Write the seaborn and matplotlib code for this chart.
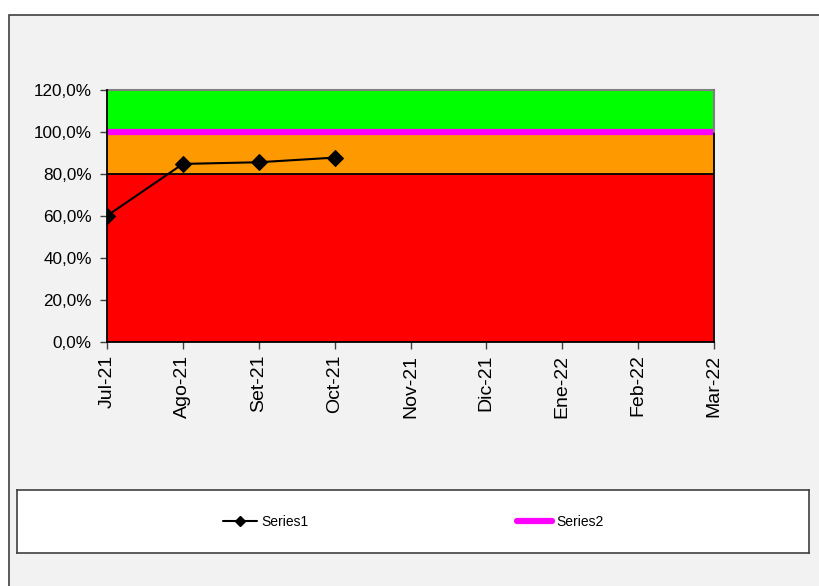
import matplotlib
matplotlib.use("Agg")
import matplotlib.pyplot as plt
from matplotlib.patches import Rectangle
from matplotlib.lines import Line2D
from matplotlib.ticker import FuncFormatter
import seaborn as sns
import pandas as pd

months = ["Jul-21", "Ago-21", "Set-21", "Oct-21", "Nov-21", "Dic-21", "Ene-22", "Feb-22", "Mar-22"]
series1 = [0.601, 0.848, 0.856, 0.878]
series2 = [1.0] * len(months)
band_edges = [0.0, 0.8, 1.0, 1.2]
band_colors = ["#ff0000", "#ff9900", "#00ff00"]
y_ticks = [0.0, 0.2, 0.4, 0.6, 0.8, 1.0, 1.2]

sns.set_theme(style="white")
plt.rcParams["font.family"] = ["Liberation Sans", "DejaVu Sans"]
plt.rcParams["text.color"] = "black"

W, H = 819, 586
fig = plt.figure(figsize=(W / 100, H / 100), dpi=100, facecolor="white")

# outer chart frame
fig.patches.append(Rectangle((9 / W, -0.02), 1.0, 1.02 - 15 / H, transform=fig.transFigure,
                             facecolor="#f2f2f2", edgecolor="#404040", linewidth=1.2, zorder=-5))

ax = fig.add_axes([107 / W, 1 - 342 / H, (714 - 107) / W, (342 - 90) / H])
ax.set_facecolor("none")
ax.set_zorder(2)

x = list(range(len(months)))
# coloured target bands
for lo, hi, c in zip(band_edges[:-1], band_edges[1:], band_colors):
    ax.fill_between([0, len(months) - 1], lo, hi, color=c, linewidth=0, zorder=1)
ax.axhline(band_edges[1], color="black", linewidth=1.3, zorder=2)

df1 = pd.DataFrame({"x": x[:len(series1)], "y": series1})
df2 = pd.DataFrame({"x": x, "y": series2})
sns.lineplot(data=df2, x="x", y="y", ax=ax, color="#ff00ff", linewidth=4.5, zorder=3)
sns.lineplot(data=df1, x="x", y="y", ax=ax, color="black", linewidth=1.5,
             marker="D", markersize=8, markeredgecolor="black", zorder=4)

ax.set_xlim(0, len(months) - 1)
ax.set_ylim(0, 1.2)
ax.set_xticks(x)
ax.set_xticklabels(months, rotation=90, fontsize=14)
ax.set_yticks(y_ticks)
ax.yaxis.set_major_formatter(FuncFormatter(lambda v, p: f"{v * 100:.1f}%".replace(".", ",")))
ax.tick_params(axis="y", labelsize=12.3, length=5, width=1, color="#404040", pad=6,
               left=True, labelcolor="black")
ax.tick_params(axis="x", length=5, width=1, color="#404040", pad=4, bottom=True,
               labelcolor="black")
ax.set_xlabel("")
ax.set_ylabel("")

for side in ["left", "bottom", "right"]:
    ax.spines[side].set_color("black")
    ax.spines[side].set_linewidth(1.3)
    ax.spines[side].set_zorder(5)
ax.spines["top"].set_color("#808080")
ax.spines["top"].set_linewidth(1.5)
ax.plot([len(months) - 1] * 2, [1.0, 1.2], color="#808080", linewidth=1.5, clip_on=False, zorder=6)

# legend box
lax = fig.add_axes([17 / W, 1 - 553 / H, (809 - 17) / W, (553 - 490) / H])
lax.set_zorder(2)
lax.set_xticks([])
lax.set_yticks([])
lax.set_facecolor("white")
for s in lax.spines.values():
    s.set_color("#404040")
    s.set_linewidth(1.2)
handles = [
    Line2D([], [], color="black", linewidth=1.5, marker="D", markersize=5),
    Line2D([], [], color="#ff00ff", linewidth=4.5),
]
lax.legend(handles, ["Series1", "Series2"], loc="center", ncol=2, frameon=False,
           fontsize=10, handlelength=2.5, handletextpad=0.3, columnspacing=15.0,
           labelcolor="black")

fig.savefig("out.png", dpi=100, facecolor="white")
